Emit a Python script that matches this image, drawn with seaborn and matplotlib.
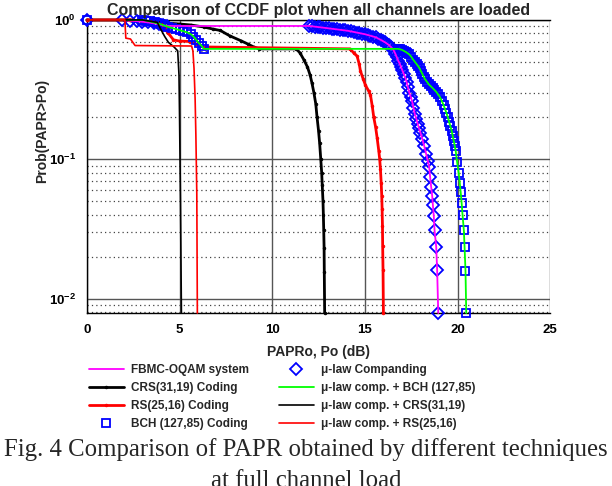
import matplotlib
matplotlib.use("Agg")
import matplotlib.pyplot as plt
from matplotlib.ticker import NullFormatter, FixedLocator
import seaborn as sns

# ==========================================
# DATA
# ==========================================

# FBMC-OQAM system (magenta) -- the mu-law companding diamonds sit on it
fbmc_db = [0.0, 1.9, 2.3, 2.7, 3.0, 3.3, 3.6, 3.9, 4.1, 4.3,
           12.0, 12.15, 12.3, 12.45, 12.6, 12.75, 12.9, 13.05, 13.2, 13.35,
           13.5, 13.65, 13.8, 13.95, 14.1, 14.25, 14.4, 14.55, 14.7, 14.85,
           15.0, 15.15, 15.3, 15.45, 15.6, 15.72, 15.85, 15.97, 16.1, 16.2,
           16.3, 16.4, 16.5, 16.58, 16.65, 16.72, 16.8, 16.88, 16.95, 17.02,
           17.1, 17.18, 17.25, 17.32, 17.4, 17.48, 17.55, 17.62, 17.7, 17.78,
           17.85, 17.92, 18.0, 18.1, 18.2, 18.3, 18.4, 18.47, 18.52, 18.58,
           18.63, 18.67, 18.72, 18.76, 18.85, 18.9, 18.96]
fbmc_p = [1.0, 1.0, 0.99, 0.98, 0.97, 0.96, 0.945, 0.93, 0.915, 0.905,
          0.905, 0.90, 0.895, 0.89, 0.885, 0.88, 0.875, 0.87, 0.865, 0.86,
          0.855, 0.85, 0.845, 0.84, 0.835, 0.827, 0.82, 0.812, 0.805, 0.797,
          0.79, 0.78, 0.77, 0.76, 0.75, 0.735, 0.72, 0.705, 0.69, 0.675,
          0.66, 0.64, 0.62, 0.595, 0.57, 0.54, 0.51, 0.485, 0.46, 0.435,
          0.41, 0.385, 0.36, 0.33, 0.30, 0.28, 0.26, 0.235, 0.21, 0.195,
          0.18, 0.167, 0.155, 0.14, 0.125, 0.11, 0.097, 0.088, 0.075, 0.063,
          0.055, 0.047, 0.039, 0.031, 0.0235, 0.016, 0.0079]

# BCH (127,85) coding squares / mu-law comp. + BCH green line
bch_db = [0.0, 3.0, 3.2, 3.4, 3.6, 3.8, 4.0, 4.2, 4.4, 4.6,
          4.8, 5.0, 5.2, 5.4, 5.6, 5.75, 5.9, 6.05, 6.2, 6.3,
          16.8, 16.9, 17.0, 17.1, 17.2, 17.3, 17.4, 17.5, 17.6, 17.7,
          17.8, 17.88, 17.95, 18.02, 18.1, 18.18, 18.25, 18.35, 18.45, 18.55,
          18.65, 18.75, 18.85, 18.95, 19.05, 19.15, 19.25, 19.32, 19.4, 19.48,
          19.55, 19.62, 19.68, 19.74, 19.8, 19.85, 19.9, 19.98, 20.06, 20.12,
          20.17, 20.22, 20.27, 20.34, 20.38, 20.43, 20.47]
bch_p = [1.0, 1.0, 0.99, 0.975, 0.96, 0.945, 0.93, 0.91, 0.89, 0.875,
         0.86, 0.845, 0.83, 0.815, 0.79, 0.76, 0.72, 0.68, 0.65, 0.62,
         0.62, 0.615, 0.61, 0.60, 0.59, 0.578, 0.565, 0.545, 0.52, 0.50,
         0.48, 0.465, 0.45, 0.43, 0.41, 0.39, 0.375, 0.36, 0.345, 0.335,
         0.325, 0.315, 0.305, 0.292, 0.28, 0.262, 0.245, 0.23, 0.215, 0.20,
         0.185, 0.172, 0.16, 0.147, 0.135, 0.125, 0.115, 0.095, 0.08, 0.068,
         0.058, 0.049, 0.04, 0.031, 0.0235, 0.0157, 0.0079]

# CRS(31,19) coding
crs_db = [0.0, 2.3, 3.0, 4.0, 5.0, 5.6, 6.3, 6.8, 7.2, 7.7,
          8.3, 8.7, 9.0, 9.3, 11.3, 11.5, 11.7, 11.9, 12.05, 12.15,
          12.25, 12.35, 12.42, 12.5, 12.56, 12.62, 12.67, 12.7, 12.74, 12.76,
          12.78, 12.8, 12.81, 12.83]
crs_p = [1.0, 1.0, 0.98, 0.955, 0.935, 0.92, 0.89, 0.86, 0.84, 0.77,
         0.71, 0.67, 0.64, 0.62, 0.62, 0.58, 0.52, 0.46, 0.40, 0.35,
         0.30, 0.25, 0.20, 0.16, 0.13, 0.10, 0.08, 0.065, 0.05, 0.04,
         0.031, 0.023, 0.0155, 0.0079]

# RS(25,16) coding
rs_db = [0.0, 2.3, 3.5, 4.0, 4.2, 4.4, 4.67, 5.0, 5.57, 5.9,
         6.3, 14.2, 14.4, 14.58, 14.7, 14.76, 14.9, 15.03, 15.2, 15.3,
         15.4, 15.48, 15.58, 15.66, 15.75, 15.8, 15.84, 15.88, 15.91, 15.93,
         15.95, 15.96, 15.98, 16.0]
rs_p = [1.0, 1.0, 0.97, 0.93, 0.87, 0.80, 0.72, 0.705, 0.70, 0.67,
        0.64, 0.62, 0.58, 0.55, 0.48, 0.43, 0.38, 0.34, 0.31, 0.29,
        0.24, 0.20, 0.17, 0.143, 0.115, 0.10, 0.085, 0.068, 0.055, 0.044,
        0.033, 0.024, 0.016, 0.0079]

# mu-law comp. + CRS(31,19)
mu_crs_db = [0.0, 3.0, 3.8, 4.0, 4.2, 4.4, 4.7, 4.9, 4.97, 5.0, 5.05, 5.1]
mu_crs_p = [1.0, 1.0, 0.96, 0.85, 0.76, 0.69, 0.64, 0.6, 0.4, 0.2, 0.05, 0.0079]

# mu-law comp. + RS(25,16)
mu_rs_db = [0.0, 2.05, 2.1, 2.35, 2.6, 5.65, 5.72, 5.78, 5.84, 5.88, 5.93, 5.96]
mu_rs_p = [1.0, 1.0, 0.74, 0.73, 0.655, 0.65, 0.6, 0.45, 0.27, 0.15, 0.057, 0.0079]

x_ticks = [0, 5, 10, 15, 20, 25]
y_ticks = [1e-2, 1e-1, 1e0]
y_tick_labels = [r"$\mathbf{10^{-2}}$", r"$\mathbf{10^{-1}}$", r"$\mathbf{10^{0}}$"]

# ==========================================
# STYLE
# ==========================================

sns.set_style("white")
plt.rcParams["font.family"] = ["Liberation Sans", "DejaVu Sans"]
plt.rcParams["font.weight"] = "bold"
plt.rcParams["mathtext.fontset"] = "custom"
plt.rcParams["mathtext.rm"] = "Liberation Sans"
plt.rcParams["mathtext.bf"] = "Liberation Sans:bold"
plt.rcParams["mathtext.it"] = "Liberation Serif:italic"

fig = plt.figure(figsize=(6.12, 4.86), dpi=100)
ax = fig.add_axes([0.142, 0.356, 0.757, 0.603])

common = dict(ax=ax, sort=False, estimator=None, clip_on=False)

# ==========================================
# CURVES
# ==========================================

sns.lineplot(x=fbmc_db, y=fbmc_p, color="#ff00ff", lw=1.3,
             label="FBMC-OQAM system", zorder=4, **common)
sns.lineplot(x=fbmc_db, y=fbmc_p, color="#0000ff", ls="none", marker="D",
             ms=6.5, mfc="none", mec="#0000ff", mew=1.3,
             label="μ-law Companding", zorder=3, **common)
sns.lineplot(x=crs_db, y=crs_p, color="black", lw=2.0, marker=".", ms=4,
             mec="black", mew=0.5,
             label="CRS(31,19) Coding", zorder=3, **common)
sns.lineplot(x=rs_db, y=rs_p, color="#ff0000", lw=2.0, marker=".", ms=4,
             mec="#ff0000", mew=0.5,
             label="RS(25,16) Coding", zorder=3, **common)
sns.lineplot(x=bch_db, y=bch_p, color="#0000ff", ls="none", marker="s",
             ms=5.5, mfc="none", mec="#0000ff", mew=1.3,
             label="BCH (127,85) Coding", zorder=3, **common)
sns.lineplot(x=bch_db, y=bch_p, color="#00ff00", lw=1.3,
             label="μ-law comp. + BCH (127,85)", zorder=5, **common)
sns.lineplot(x=mu_crs_db, y=mu_crs_p, color="black", lw=1.2,
             label="μ-law comp. + CRS(31,19)", zorder=5, **common)
sns.lineplot(x=mu_rs_db, y=mu_rs_p, color="#ff0000", lw=1.2,
             label="μ-law comp. + RS(25,16)", zorder=5, **common)

handles, labels = ax.get_legend_handles_labels()
if ax.get_legend() is not None:
    ax.get_legend().remove()

# ==========================================
# AXES
# ==========================================

ax.set_yscale("log")
ax.set_xlim(0, 25)
ax.set_ylim(0.0079, 1.0)
ax.set_xticks(x_ticks)
ax.set_xticklabels([str(t) for t in x_ticks])
ax.yaxis.set_major_locator(FixedLocator(y_ticks))
ax.set_yticklabels(y_tick_labels)
ax.yaxis.set_minor_formatter(NullFormatter())
ax.set_xlabel("")
ax.set_ylabel("")

ax.grid(True, which="major", axis="both", color="#555555", lw=1.0, ls="-")
ax.grid(True, which="minor", axis="y", color="#444444", lw=0.9, ls=(0, (1, 2.5)))
ax.set_axisbelow(True)

ax.tick_params(axis="both", which="major", direction="in", length=4,
               labelsize=9.5, pad=8, colors="black")
ax.tick_params(axis="y", which="minor", direction="in", length=2)
for lab in ax.get_xticklabels():
    lab.set_fontweight("bold")

for side in ["left", "bottom", "top"]:
    ax.spines[side].set_color("black")
    ax.spines[side].set_linewidth(1.0)
ax.spines["right"].set_visible(False)

# ==========================================
# TEXTS
# ==========================================

fig.text(0.52, 1 - 10 / 486, "Comparison of CCDF plot when all channels are loaded",
         ha="center", va="center", fontsize=11.5, fontweight="bold")
fig.text(0.069, 1 - 131 / 486, "Prob(PAPR>Po)", rotation=90,
         ha="center", va="center", fontsize=10, fontweight="bold")
fig.text(0.52, 1 - 352 / 486, "PAPRo, Po (dB)",
         ha="center", va="center", fontsize=10, fontweight="bold")

order = [0, 2, 3, 4, 1, 5, 6, 7]
fig.legend([handles[i] for i in order], [labels[i] for i in order],
           ncol=2, loc="upper left", bbox_to_anchor=(0.145, 1 - 364 / 486),
           frameon=False, fontsize=8.5, handlelength=3.0, handletextpad=0.6,
           labelspacing=0.5, columnspacing=2.5, borderpad=0, borderaxespad=0)

fig.text(0.5, 1 - 450 / 486,
         "Fig. 4 Comparison of PAPR obtained by different techniques",
         ha="center", va="center", fontsize=17.8, fontweight="normal",
         family=["Liberation Serif", "DejaVu Serif"])
fig.text(0.5, 1 - 481 / 486, "at full channel load",
         ha="center", va="center", fontsize=17.8, fontweight="normal",
         family=["Liberation Serif", "DejaVu Serif"])

plt.savefig("out.png", dpi=100)
